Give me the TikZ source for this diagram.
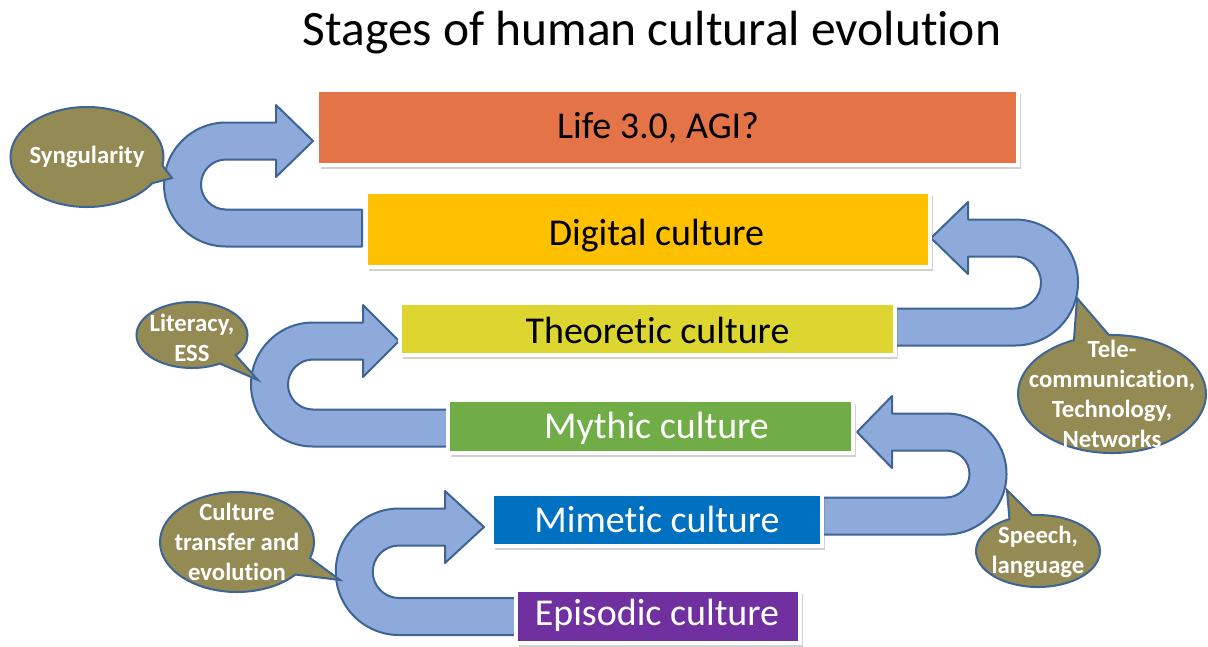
\documentclass[tikz,border=0pt]{standalone}
\usepackage{fontspec}
\setmainfont{Carlito}[Ligatures=NoCommon]
\usepackage{tikz}
\usepackage{xcolor}
\usetikzlibrary{shapes, shapes.callouts}
\usetikzlibrary{shadows}
\usetikzlibrary{calc}

\definecolor{lifecol}{HTML}{E57348}
\definecolor{digicol}{HTML}{FFC000}
\definecolor{theocol}{HTML}{DDD530}
\definecolor{mythcol}{HTML}{70AD47}
\definecolor{mimecol}{HTML}{0070C0}
\definecolor{epicol}{HTML}{7030A0}
\definecolor{turnfill}{HTML}{8EAADB}
\definecolor{turnline}{HTML}{3D6494}
\definecolor{olive}{HTML}{948A54}

% U-turn block arrow: tail x, lower y, upper y, bend x, head base x, tip x, end angle
\newcommand{\uturn}[7]{%
  \filldraw[turn] (#1,#2+18.5) -- (#4,#2+18.5)
    arc[start angle=90, end angle=#7, radius={(#2-#3)/2+18.5}]
    -- (#5,#3-18.5) -- (#5,#3-36) -- (#6,#3) -- (#5,#3+36) -- (#5,#3+18.5)
    -- (#4,#3+18.5)
    arc[start angle=#7, end angle=90, radius={(#2-#3)/2-18.5}]
    -- (#1,#2-18.5) -- cycle;}

\begin{document}
\begin{tikzpicture}[x=0.25mm, y=-0.25mm,
    stage/.style = {draw=white, line width=1mm, inner sep=0pt,
                    drop shadow={shadow xshift=0.8mm, shadow yshift=-0.9mm, opacity=0.3, fill=black!60}},
    stagetext/.style = {font=\fontsize{27}{30}\selectfont},
    turn/.style = {fill=turnfill, draw=turnline, line width=0.5mm, line join=round},
    bubble/.style = {ellipse callout, fill=olive, draw=turnline, line width=0.5mm,
                     callout pointer arc=22, inner sep=0pt},
    bubbletext/.style = {text=white, align=center,
                         font=\fontsize{17.6}{21.3}\selectfont\bfseries}]

    \useasboundingbox (0,0) rectangle (1208,646);

    \node (title) at (652,33) {\fontsize{35.2}{40}\selectfont Stages of human cultural evolution};

    % arrows between the stages
    \uturn{362}{228}{141}{226}{276}{313}{270}
    \uturn{893}{327}{238}{1015}{968}{931}{-90}
    \uturn{450}{428}{341}{313}{363}{399}{270}
    \uturn{820}{516}{432}{946}{892}{857}{-90}
    \uturn{518}{616.5}{527}{399}{445}{484}{270}

    % stages
    \node[stage, fill=lifecol, minimum width=175mm, minimum height=18.75mm] (life) at (667.5,127.5) {};
    \node[stage, fill=digicol, minimum width=141mm, minimum height=18.75mm] (digital) at (648,229.5) {};
    \node[stage, fill=theocol, minimum width=123.75mm, minimum height=13mm] (theoretic) at (647.5,329) {};
    \node[stage, fill=mythcol, minimum width=101.25mm, minimum height=13.25mm] (mythic) at (650.5,426.5) {};
    \node[stage, fill=mimecol, minimum width=82.5mm, minimum height=13mm] (mimetic) at (657,520) {};
    \node[stage, fill=epicol, minimum width=71mm, minimum height=13.25mm] (episodic) at (658,616.5) {};

    \node[stagetext] (lifetext) at (658,128) {Life 3.0, AGI?};
    \node[stagetext] (digitext) at (656.5,236) {Digital culture};
    \node[stagetext] (theotext) at (657.5,330) {Theoretic culture};
    \node[stagetext, text=white] (mythtext) at (656.5,428) {Mythic culture};
    \node[stagetext, text=white] (mimetext) at (657,519) {Mimetic culture};
    \node[stagetext, text=white] (epitext) at (657,615) {Episodic culture};

    % callouts
    \node[bubble, minimum width=38.25mm, minimum height=25mm, callout absolute pointer={(172,178)}] (syng) at (87,157) {};
    \node[bubbletext] at (syng.center) {Syngularity};

    \node[bubble, minimum width=47mm, minimum height=29.5mm, callout absolute pointer={(1077,298)}] (telecom) at (1112,394) {};
    \node[bubbletext] at (telecom.center) {Tele-\\communication,\\Technology,\\Networks};

    \node[bubble, minimum width=27.75mm, minimum height=16.5mm, callout absolute pointer={(258,380)}] (literacy) at (192,335) {};
    \node[bubbletext] at (192,338) {Literacy,\\ESS};

    \node[bubble, minimum width=31mm, minimum height=18mm, callout absolute pointer={(1007,490)}] (speech) at (1038,551) {};
    \node[bubbletext] at (1038,552) {Speech,\\language};

    \node[bubble, minimum width=38.5mm, minimum height=25mm, callout absolute pointer={(340,580)}] (transfer) at (237,542) {};
    \node[bubbletext] at (transfer.center) {Culture\\transfer and\\evolution};
\end{tikzpicture}
\end{document}
